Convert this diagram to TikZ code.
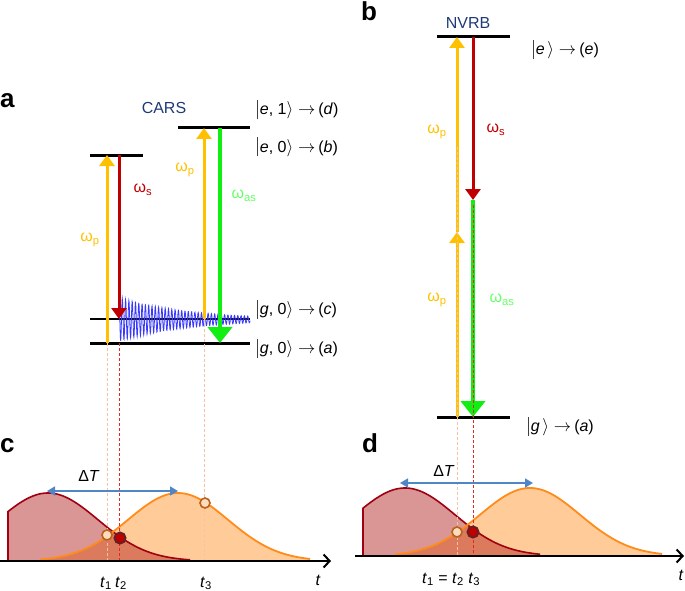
\documentclass[tikz,border=0pt]{standalone}
\usepackage{fontspec}
\setmainfont{Liberation Sans}
\usetikzlibrary{arrows.meta}
\definecolor{pump}{HTML}{FFC000}
\definecolor{stokes}{HTML}{C00000}
\definecolor{guidered}{HTML}{E32626}
\definecolor{asgreen}{HTML}{11EE11}
\definecolor{astext}{HTML}{66FF66}
\definecolor{navy}{HTML}{1F3A78}
\definecolor{osc}{HTML}{3838FF}
\definecolor{redfill}{HTML}{D99694}
\definecolor{redline}{HTML}{A00010}
\definecolor{orfill}{HTML}{FFCC99}
\definecolor{orline}{HTML}{FF8C1A}
\definecolor{overlap}{HTML}{DB7A5C}
\definecolor{dtblue}{HTML}{4F86C6}
\definecolor{guideor}{HTML}{F8C3A0}
\definecolor{circfill}{HTML}{FDDCBD}
\definecolor{circline}{HTML}{B8621B}
\definecolor{dotline}{HTML}{6B1E1E}
\newcommand{\ketbar}{\textcolor{black!75}{\rule[-4.5pt]{0.7pt}{19pt}}\hspace{2pt}}
\newcommand{\ketto}{$\rangle\rightarrow$\hspace{3pt}}
\tikzset{
  level/.style={line width=3pt},
  thinlevel/.style={line width=1.2pt},
  pumparrow/.style={draw=pump, line width=3pt, -{Triangle[width=15pt,length=11pt]}},
  stokesarrow/.style={draw=stokes, line width=3pt, -{Triangle[width=15pt,length=11pt]}},
  asarrow/.style={draw=asgreen, line width=4.5pt, -{Triangle[width=24pt,length=16pt]}},
  guideO/.style={draw=guideor, line width=0.9pt, dash pattern=on 3pt off 2pt},
  guideR/.style={draw=guidered, line width=0.9pt, dash pattern=on 3pt off 2pt},
  lab/.style={font=\fontsize{16}{16}\selectfont, inner sep=0pt},
  ket/.style={font=\fontsize{16}{16}\selectfont, anchor=west, inner sep=0pt},
  panel/.style={font=\fontsize{26}{26}\selectfont\bfseries, anchor=base west, inner sep=0pt},
  title/.style={font=\fontsize{16}{16}\selectfont, text=navy, inner sep=0pt},
  tlab/.style={font=\fontsize{16}{16}\selectfont, anchor=base, inner sep=0pt},
  axisline/.style={line width=2pt, -{Straight Barb[length=6pt,width=13pt,line width=2pt]}},
  dtarrow/.style={draw=dtblue, line width=1.5pt, {Triangle[width=9pt,length=8pt]}-{Triangle[width=9pt,length=8pt]}},
  opencirc/.style={circle, draw=circline, fill=circfill, line width=1.6pt, minimum size=10pt, inner sep=0pt},
  fullcirc/.style={circle, draw=dotline, fill=stokes, line width=2pt, minimum size=11pt, inner sep=0pt},
  redpulse/.style={fill=redfill},
  orpulse/.style={fill=orfill},
}
\begin{document}
\begin{tikzpicture}[x=1pt,y=-1pt]
\useasboundingbox (0,0) rectangle (685,591);

% ---------------- panel a ----------------
\node[panel] (pa) at (0,108) {a};
\node[title] (cars) at (164,108) {CARS};
\coordinate (aL1) at (90,155);  \coordinate (aL2) at (143,155);
\coordinate (aR1) at (178,128); \coordinate (aR2) at (250,128);
\coordinate (aC1) at (90,319);  \coordinate (aC2) at (250,319);
\coordinate (aG1) at (90,343);  \coordinate (aG2) at (250,343);
\draw[thinlevel] (aC1) -- (aC2);
% vibrational coherence
\draw[osc, line width=0.8pt] plot[domain=0:131, samples=520] ({119+\x},{319.5-22*exp(-\x/70)*cos(109.09*\x)});
\draw[level] (aL1) -- (aL2);
\draw[level] (aR1) -- (aR2);
\draw[level] (aG1) -- (aG2);
\draw[pumparrow] (107,343) -- (107,155);
\draw[stokesarrow] (119,155) -- (119,319);
\draw[pumparrow] (204,319) -- (204,128);
\draw[asarrow] (220,128) -- (220,343);
\node[lab, text=pump] (wp1) at (90,240) {ω\textsubscript{p}};
\node[lab, text=stokes] (ws1) at (143,190) {ω\textsubscript{s}};
\node[lab, text=pump] (wp2) at (185,170) {ω\textsubscript{p}};
\node[lab, text=astext] (was1) at (244,196) {ω\textsubscript{as}};
\node[ket] (k1) at (257,110) {\ketbar\textit{e}, 1\ketto(\textit{d})};
\node[ket] (k2) at (257,147) {\ketbar\textit{e}, 0\ketto(\textit{b})};
\node[ket] (k3) at (257,309) {\ketbar\textit{g}, 0\ketto(\textit{c})};
\node[ket] (k4) at (257,348) {\ketbar\textit{g}, 0\ketto(\textit{a})};

% ---------------- panel b ----------------
\node[panel] (pb) at (361,21) {b};
\node[title] (nvrb) at (468,23) {NVRB};
\coordinate (bT1) at (437,37);  \coordinate (bT2) at (510,37);
\coordinate (bG1) at (437,417); \coordinate (bG2) at (510,417);
\draw[level] (bT1) -- (bT2);
\draw[level] (bG1) -- (bG2);
\draw[pumparrow] (457,417) -- (457,232);
\draw[pumparrow] (457,232) -- (457,37);
\draw[stokesarrow] (473,37) -- (473,200);
\draw[asarrow] (473,200) -- (473,417);
\node[lab, text=pump] (wp3) at (437,132) {ω\textsubscript{p}};
\node[lab, text=stokes] (ws2) at (496,130) {ω\textsubscript{s}};
\node[lab, text=pump] (wp4) at (437,300) {ω\textsubscript{p}};
\node[lab, text=astext] (was2) at (502,300) {ω\textsubscript{as}};
\node[ket] (k5) at (533,50) {\ketbar\textit{e}\,\ketto(\textit{e})};
\node[ket] (k6) at (528,426) {\ketbar\textit{g}\,\ketto(\textit{a})};

% ---------------- panel c ----------------
\node[panel] (pc) at (0,452) {c};
\def\redc{(8,561) -- plot[domain=8:190, samples=80] (\x,{561-68*exp(-0.5*((\x-48)/50)^2)}) -- (190,561) -- cycle}
\def\orc{(40,561) -- plot[domain=40:310, samples=100] (\x,{561-68*exp(-0.5*((\x-178)/50)^2)}) -- (310,561) -- cycle}
\fill[redpulse] \redc;
\fill[orpulse] \orc;
\begin{scope}
  \clip \redc;
  \fill[overlap] \orc;
\end{scope}
\draw[redline, line width=1.6pt] (8,561) -- plot[domain=8:190, samples=80] (\x,{561-68*exp(-0.5*((\x-48)/50)^2)});
\draw[orline, line width=1.8pt] plot[domain=40:310, samples=100] (\x,{561-68*exp(-0.5*((\x-178)/50)^2)});
\draw[guideO] (107,343) -- (107,561);
\draw[guideR] (119,343) -- (119,561);
\draw[guideO] (204,319) -- (204,561);
\draw[axisline] (0,561) -- (331,561);
\draw[dtarrow] (47,491) -- (178,491);
\node[font=\fontsize{16}{16}\selectfont, inner sep=0pt] (dtc) at (89,476) {Δ\textit{T}};
\node[opencirc] (c1) at (107,535) {};
\node[opencirc] (c3) at (205,503) {};
\node[fullcirc] (c2) at (120,538) {};
\node[tlab] (t1c) at (106,587) {\textit{t}\textsubscript{1}};
\node[tlab] (t2c) at (121,587) {\textit{t}\textsubscript{2}};
\node[tlab] (t3c) at (206,587) {\textit{t}\textsubscript{3}};
\node[tlab] (tc) at (318,585) {\textit{t}};

% ---------------- panel d ----------------
\node[panel] (pd) at (362,452) {d};
\def\redd{(363,556) -- plot[domain=363:540, samples=80] (\x,{556-68*exp(-0.5*((\x-405)/50)^2)}) -- (540,556) -- cycle}
\def\ord{(395,556) -- plot[domain=395:662, samples=100] (\x,{556-68*exp(-0.5*((\x-530)/50)^2)}) -- (662,556) -- cycle}
\fill[redpulse] \redd;
\fill[orpulse] \ord;
\begin{scope}
  \clip \redd;
  \fill[overlap] \ord;
\end{scope}
\draw[redline, line width=1.6pt] (363,556) -- plot[domain=363:540, samples=80] (\x,{556-68*exp(-0.5*((\x-405)/50)^2)});
\draw[orline, line width=1.8pt] plot[domain=395:662, samples=100] (\x,{556-68*exp(-0.5*((\x-530)/50)^2)});
\draw[guideO] (457,147) -- (457,556);
\draw[guideR] (473,205) -- (473,556);
\draw[axisline] (355,556) -- (684,556);
\draw[dtarrow] (400,483) -- (533,483);
\node[font=\fontsize{16}{16}\selectfont, inner sep=0pt] (dtd) at (444,471) {Δ\textit{T}};
\node[opencirc] (d1) at (457,532) {};
\node[fullcirc] (d2) at (473,532) {};
\node[tlab, anchor=base west] (t123) at (422,583) {\textit{t}\textsubscript{1} = \textit{t}\textsubscript{2} \textit{t}\textsubscript{3}};
\node[tlab] (td) at (681,580) {\textit{t}};
\end{tikzpicture}
\end{document}
